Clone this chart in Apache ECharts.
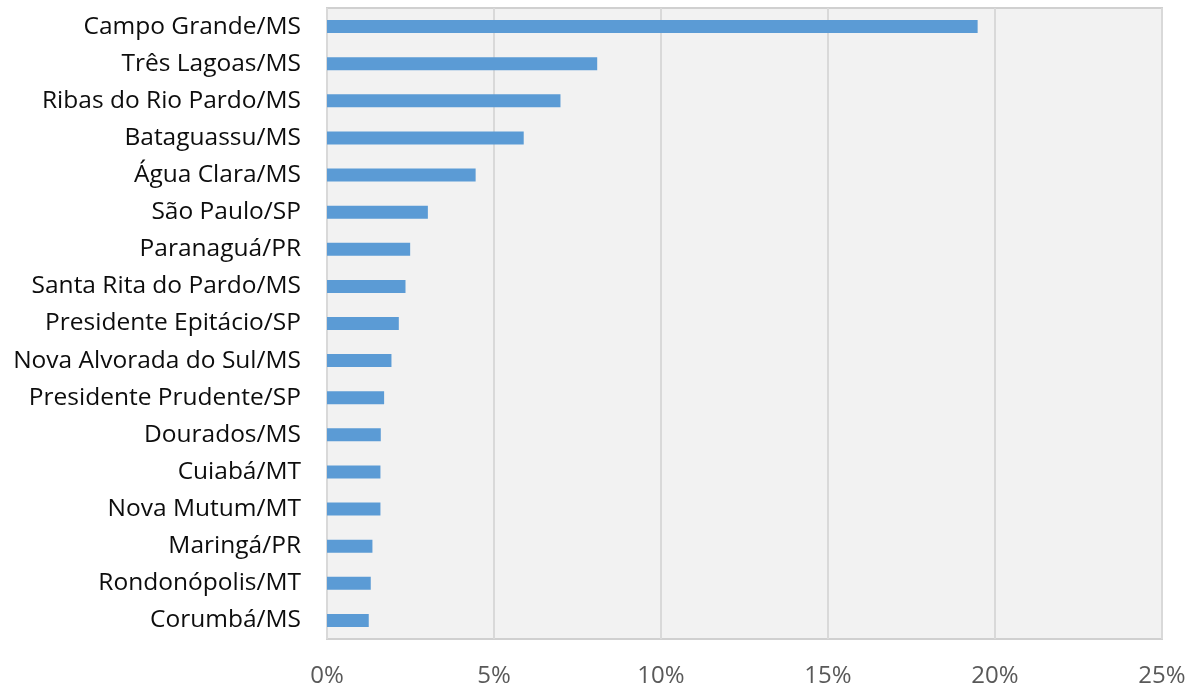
<!DOCTYPE html>
<html>
<head>
<meta charset="utf-8">
<script src="https://cdn.jsdelivr.net/npm/echarts@6/dist/echarts.min.js"></script>
<style>
  html, body { margin: 0; padding: 0; background: #ffffff; }
  #chart { width: 1201px; height: 689px; }
</style>
</head>
<body>
<div id="chart"></div>
<script>
// categories, top to bottom
const cities = [
  'Campo Grande/MS', 'Três Lagoas/MS', 'Ribas do Rio Pardo/MS', 'Bataguassu/MS',
  'Água Clara/MS', 'São Paulo/SP', 'Paranaguá/PR', 'Santa Rita do Pardo/MS',
  'Presidente Epitácio/SP', 'Nova Alvorada do Sul/MS', 'Presidente Prudente/SP',
  'Dourados/MS', 'Cuiabá/MT', 'Nova Mutum/MT', 'Maringá/PR', 'Rondonópolis/MT', 'Corumbá/MS'
]
// share (%)
const shares = [
  19.48, 8.09, 6.99, 5.89, 4.45, 3.02, 2.49, 2.35,
  2.15, 1.93, 1.71, 1.61, 1.60, 1.60, 1.36, 1.31, 1.25
]
const xTicks = [0, 5, 10, 15, 20, 25]

const chart = echarts.init(document.getElementById('chart'))
chart.setOption({
  animation: false,
  grid: {
    left: 327, right: 39, top: 8, bottom: 50,
    show: true,
    backgroundColor: '#f2f2f2',
    borderColor: '#d0d0d0',
    borderWidth: 2
  },
  xAxis: {
    type: 'value',
    min: xTicks[0],
    max: xTicks[xTicks.length - 1],
    interval: 5,
    axisLine: { show: false },
    axisTick: { show: false },
    axisLabel: {
      color: '#595959',
      fontFamily: 'Open Sans',
      fontSize: 24,
      margin: 25,
      formatter: '{value}%'
    },
    splitLine: { lineStyle: { color: '#d9d9d9', width: 2 } }
  },
  yAxis: {
    type: 'category',
    inverse: true,
    data: cities,
    axisLine: { show: false },
    axisTick: { show: false },
    axisLabel: {
      color: '#0d0d0d',
      fontFamily: 'Open Sans',
      fontSize: 24.5,
      margin: 26
    }
  },
  series: [{
    type: 'bar',
    data: shares,
    barWidth: 13,
    itemStyle: { color: '#5b9bd5' }
  }]
})
</script>
</body>
</html>
